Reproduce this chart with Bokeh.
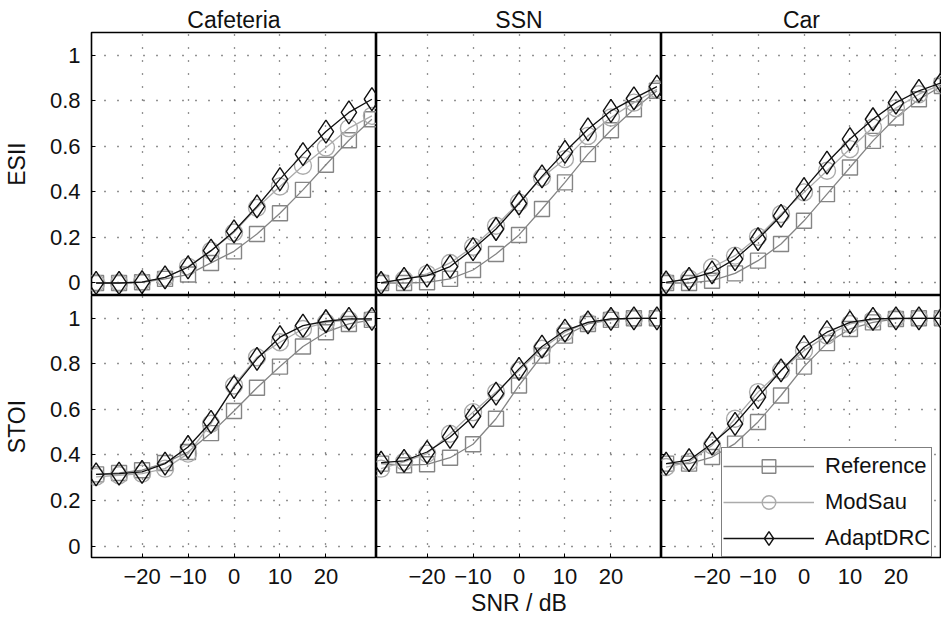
from bokeh.plotting import figure
from bokeh.models import Range1d, FixedTicker, Legend, LegendItem
from bokeh.layouts import row, column
from bokeh.embed import file_html
from bokeh.resources import INLINE

FONT = "Liberation Sans"

snr = [-30, -25, -20, -15, -10, -5, 0, 5, 10, 15, 20, 25, 30]
x_ticks = [-20, -10, 0, 10, 20]
x_tick_labels = {-20: "\u221220", -10: "\u221210", 0: "0", 10: "10", 20: "20"}
y_ticks = [0, 0.2, 0.4, 0.6, 0.8, 1]
y_tick_labels = {0: "0", 0.2: "0.2", 0.4: "0.4", 0.6: "0.6", 0.8: "0.8", 1: "1"}

noise_types = ["Cafeteria", "SSN", "Car"]
metrics = ["ESII", "STOI"]
methods = ["Reference", "ModSau", "AdaptDRC"]

# ESII
esii_cafeteria_reference = [0.0, 0.0, 0.003, 0.018, 0.037, 0.088, 0.139, 0.215, 0.306, 0.409, 0.519, 0.627, 0.719]
esii_cafeteria_modsau = [0.0, 0.0, 0.005, 0.022, 0.072, 0.142, 0.222, 0.330, 0.424, 0.515, 0.595, 0.680, 0.734]
esii_cafeteria_adaptdrc = [0.0, 0.0, 0.004, 0.025, 0.069, 0.142, 0.227, 0.336, 0.456, 0.566, 0.665, 0.749, 0.807]

esii_ssn_reference = [0.0, 0.0, 0.003, 0.018, 0.057, 0.127, 0.211, 0.325, 0.442, 0.566, 0.671, 0.763, 0.844]
esii_ssn_modsau = [0.003, 0.015, 0.040, 0.088, 0.159, 0.251, 0.354, 0.463, 0.544, 0.646, 0.727, 0.792, 0.851]
esii_ssn_adaptdrc = [0.0, 0.018, 0.032, 0.072, 0.149, 0.237, 0.349, 0.468, 0.576, 0.675, 0.756, 0.811, 0.862]

esii_car_reference = [0.0, 0.0, 0.010, 0.042, 0.098, 0.171, 0.273, 0.390, 0.507, 0.624, 0.727, 0.807, 0.865]
esii_car_modsau = [0.003, 0.020, 0.069, 0.120, 0.203, 0.303, 0.398, 0.493, 0.588, 0.683, 0.768, 0.829, 0.873]
esii_car_adaptdrc = [0.003, 0.018, 0.047, 0.105, 0.193, 0.295, 0.412, 0.529, 0.632, 0.719, 0.792, 0.844, 0.880]

# STOI
stoi_cafeteria_reference = [0.315, 0.321, 0.333, 0.365, 0.413, 0.496, 0.593, 0.695, 0.788, 0.876, 0.939, 0.975, 0.993]
stoi_cafeteria_modsau = [0.304, 0.311, 0.318, 0.340, 0.406, 0.537, 0.705, 0.829, 0.895, 0.953, 0.982, 0.993, 0.997]
stoi_cafeteria_adaptdrc = [0.315, 0.318, 0.326, 0.362, 0.435, 0.545, 0.698, 0.822, 0.917, 0.968, 0.987, 0.997, 0.997]

stoi_ssn_reference = [0.362, 0.355, 0.359, 0.388, 0.447, 0.559, 0.705, 0.836, 0.924, 0.975, 0.993, 1.0, 1.0]
stoi_ssn_modsau = [0.340, 0.370, 0.406, 0.493, 0.588, 0.676, 0.771, 0.866, 0.939, 0.982, 0.997, 1.0, 1.0]
stoi_ssn_adaptdrc = [0.366, 0.374, 0.413, 0.479, 0.569, 0.669, 0.778, 0.876, 0.946, 0.982, 0.997, 1.0, 1.0]

stoi_car_reference = [0.362, 0.362, 0.391, 0.450, 0.545, 0.661, 0.788, 0.891, 0.953, 0.982, 0.997, 1.0, 1.0]
stoi_car_modsau = [0.347, 0.369, 0.442, 0.559, 0.676, 0.771, 0.858, 0.924, 0.975, 0.993, 1.0, 1.0, 1.0]
stoi_car_adaptdrc = [0.362, 0.377, 0.450, 0.537, 0.654, 0.771, 0.873, 0.939, 0.982, 0.997, 1.0, 1.0, 1.0]

data = {
    ("ESII", "Cafeteria"): [esii_cafeteria_reference, esii_cafeteria_modsau, esii_cafeteria_adaptdrc],
    ("ESII", "SSN"): [esii_ssn_reference, esii_ssn_modsau, esii_ssn_adaptdrc],
    ("ESII", "Car"): [esii_car_reference, esii_car_modsau, esii_car_adaptdrc],
    ("STOI", "Cafeteria"): [stoi_cafeteria_reference, stoi_cafeteria_modsau, stoi_cafeteria_adaptdrc],
    ("STOI", "SSN"): [stoi_ssn_reference, stoi_ssn_modsau, stoi_ssn_adaptdrc],
    ("STOI", "Car"): [stoi_car_reference, stoi_car_modsau, stoi_car_adaptdrc],
}

styles = {
    "Reference": dict(marker="square", size=15, color="#858585", lw=1.3),
    "ModSau": dict(marker="circle", size=17, color="#ababab", lw=1.3),
    "AdaptDRC": dict(marker="diamond", size=23, color="#111111", lw=1.3),
}

TXT = "#111111"


def style_axis(ax, ticks, labels, show):
    ax.ticker = FixedTicker(ticks=ticks)
    ax.axis_line_color = None
    ax.major_tick_in = 4
    ax.major_tick_out = 0
    ax.minor_tick_in = 0
    ax.minor_tick_out = 0
    ax.major_tick_line_color = "black"
    ax.major_tick_line_width = 1
    if show:
        ax.major_label_overrides = labels
        ax.major_label_text_font = FONT
        ax.major_label_text_font_size = "22px"
        ax.major_label_text_color = TXT
    else:
        ax.major_label_text_font_size = "0px"
        ax.major_label_standoff = 0
        ax.major_label_text_color = None


figs = []
for ri, metric in enumerate(metrics):
    row_figs = []
    for ci, noise in enumerate(noise_types):
        fw = 285 if ci < 2 else 280
        fh = 263 if ri == 0 else 262
        x_end = -31 + fw * 62 / 285
        p = figure(
            frame_width=fw, frame_height=fh,
            x_range=Range1d(-31, x_end),
            y_range=Range1d(-0.055 if ri == 0 else -0.05, 1.1),
            output_backend="svg", toolbar_location=None,
            min_border_left=89 if ci == 0 else 0,
            min_border_right=0,
            min_border_top=32 if ri == 0 else 0,
            min_border_bottom=65 if ri == 1 else 0,
            background_fill_color="white", border_fill_color="white",
            title=noise if ri == 0 else None,
        )
        p.outline_line_color = "black"
        p.outline_line_width = 1.6
        p.outline_line_alpha = 1.0

        if ri == 0:
            p.title.align = "center"
            p.title.text_font = FONT
            p.title.text_font_size = "23px"
            p.title.text_font_style = "normal"
            p.title.text_color = TXT
            p.title.standoff = 0
            p.title.offset = 0

        style_axis(p.xaxis[0], x_ticks, x_tick_labels, ri == 1)
        style_axis(p.yaxis[0], y_ticks, y_tick_labels, ci == 0)
        if ri == 1:
            p.xaxis[0].major_label_standoff = 11
        if ci == 0:
            p.yaxis[0].major_label_standoff = 11
            p.yaxis[0].axis_label = metric
            p.yaxis[0].axis_label_text_font = FONT
            p.yaxis[0].axis_label_text_font_size = "23px"
            p.yaxis[0].axis_label_text_font_style = "normal"
            p.yaxis[0].axis_label_text_color = TXT
            p.yaxis[0].axis_label_standoff = 17
        if ri == 1 and ci == 1:
            p.xaxis[0].axis_label = "SNR / dB"
            p.xaxis[0].axis_label_text_font = FONT
            p.xaxis[0].axis_label_text_font_size = "23px"
            p.xaxis[0].axis_label_text_font_style = "normal"
            p.xaxis[0].axis_label_text_color = TXT
            p.xaxis[0].axis_label_standoff = 3

        p.xgrid.ticker = FixedTicker(ticks=x_ticks)
        p.ygrid.ticker = FixedTicker(ticks=y_ticks)
        for g in (p.xgrid[0], p.ygrid[0]):
            g.grid_line_color = "black"
            g.grid_line_alpha = 0.85
            g.grid_line_width = 1.3
            g.grid_line_dash = "1 12"

        items = []
        for mi, method in enumerate(methods):
            st = styles[method]
            vals = data[(metric, noise)][mi]
            lr = p.line(snr, vals, line_color=st["color"], line_width=st["lw"])
            sr = p.scatter(snr, vals, marker=st["marker"], size=st["size"],
                           fill_color=None, line_color=st["color"], line_width=1.4)
            items.append(LegendItem(label=method, renderers=[lr, sr]))

        if ri == 1 and ci == 2:
            leg = Legend(items=items, location=(60, 0))
            leg.label_text_font = FONT
            leg.label_text_font_size = "22px"
            leg.label_text_color = TXT
            leg.glyph_width = 91
            leg.glyph_height = 34
            leg.label_height = 32
            leg.label_standoff = 11
            leg.padding = 1
            leg.spacing = 2
            leg.margin = 0
            leg.border_line_color = "black"
            leg.border_line_width = 1
            leg.background_fill_color = "white"
            leg.background_fill_alpha = 1.0
            p.add_layout(leg)

        row_figs.append(p)
    figs.append(row(*row_figs, spacing=0))

layout = column(*figs, spacing=0)

open("out.html", "w").write(file_html(layout, INLINE))
